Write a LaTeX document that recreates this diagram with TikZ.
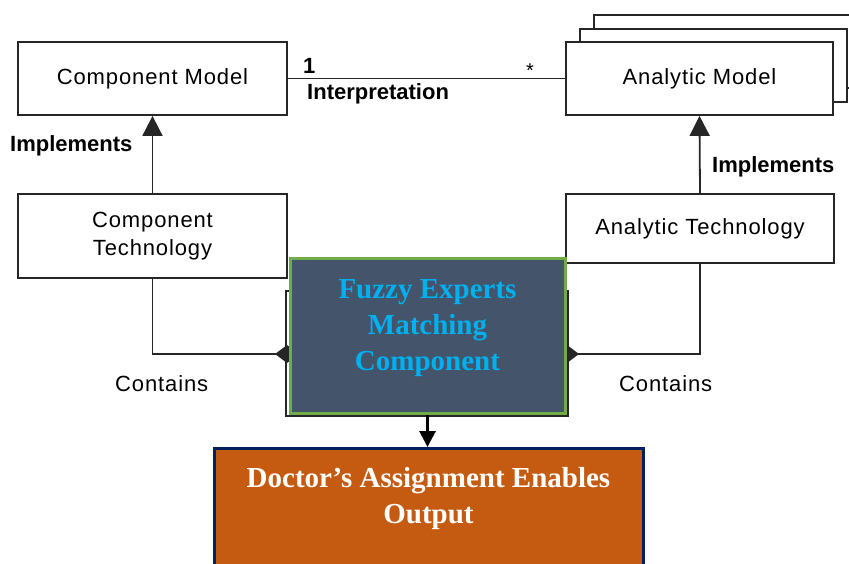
\documentclass[tikz,border=0pt]{standalone}
\usepackage{fontspec}
\setmainfont{Liberation Serif}
\newfontfamily\umlfont[LetterSpace=4]{Liberation Sans}
\newfontfamily\umlbold{Liberation Sans}
\usetikzlibrary{arrows.meta}
\definecolor{linegray}{HTML}{262626}
\definecolor{slate}{HTML}{44546A}
\definecolor{leafgreen}{HTML}{70AD47}
\definecolor{skyblue}{HTML}{00B0F0}
\definecolor{rust}{HTML}{C55A11}
\definecolor{navy}{HTML}{002060}
\tikzset{
  umlbox/.style={draw=linegray, line width=1.8pt, fill=white, inner sep=0pt,
    align=center, font=\umlfont\fontsize{22}{28}\selectfont},
  lbl/.style={inner sep=0pt, anchor=base west, font=\umlbold\bfseries\fontsize{22}{26}\selectfont},
  plainlbl/.style={inner sep=0pt, anchor=base west, font=\umlfont\fontsize{22}{26}\selectfont},
  wire/.style={draw=linegray, line width=1.8pt},
  implarrow/.style={wire, -{Triangle[length=20pt,width=20pt]}},
  containarrow/.style={wire, -{Diamond[length=24pt,width=18pt]}},
  fuzzybox/.style={draw=leafgreen, line width=3pt, fill=slate, inner sep=0pt},
  fuzzytext/.style={text=skyblue, align=center, inner sep=0pt,
    font=\bfseries\fontsize{29}{36}\selectfont},
  docbox/.style={draw=navy, line width=3pt, fill=rust, inner sep=0pt},
  doctext/.style={text=white, align=center, inner sep=0pt,
    font=\bfseries\fontsize{29}{36}\selectfont},
  flowarrow/.style={draw=black, line width=3pt, -{Triangle[length=16pt,width=16pt]}}
}
\begin{document}
\begin{tikzpicture}[x=1pt,y=-1pt]
\useasboundingbox (0,0) rectangle (849,564);
\clip (0,0) rectangle (849,564);

% stacked copies behind the analytic model
\node[umlbox, minimum width=268pt, minimum height=73pt] (stackback) at (728,51.5) {};
\node[umlbox, minimum width=267pt, minimum height=73pt] (stackmid) at (713.5,65.5) {};

% model boxes
\node[umlbox, minimum width=269pt, minimum height=73pt] (cmodel) at (152.5,78.5) {Component Model};
\node[umlbox, minimum width=267pt, minimum height=73pt] (amodel) at (699.5,78.5) {Analytic Model};

% technology boxes
\node[umlbox, minimum width=269pt, minimum height=84pt] (ctech) at (152.5,236) {Component\\Technology};
\node[umlbox, minimum width=268pt, minimum height=69pt] (atech) at (700,228.5) {Analytic Technology};

% association
\draw[wire] (cmodel.east) -- (amodel.west);
\node[lbl] (one) at (303,74) {1};
\node[lbl] (interp) at (307,100) {Interpretation};
\node[inner sep=0pt, font=\umlbold\fontsize{20}{20}\selectfont] (many) at (530,71) {*};

% realisation arrows
\draw[implarrow] (ctech.north) -- (cmodel.south);
\draw[implarrow] (atech.north) -- (amodel.south);
\node[lbl] (implL) at (10,152) {Implements};
\node[lbl] (implR) at (712,173) {Implements};

% container box underneath
\node[draw=linegray, line width=1.8pt, fill=white, minimum width=282pt, minimum height=125pt, inner sep=0pt] (holder) at (427,353.5) {};

% composition connectors
\coordinate (cl) at (299,354);
\coordinate (cr) at (555,354);
\draw[containarrow] (ctech.south) |- (cl);
\draw[containarrow] (atech.south) |- (cr);
\node[plainlbl] (contL) at (115,391) {Contains};
\node[plainlbl] (contR) at (619,391) {Contains};

% fuzzy matching component
\node[fuzzybox, minimum width=275pt, minimum height=154pt] (fuzzy) at (427.5,336) {};
\node[fuzzytext] (fuzzylabel) at (427.5,328) {Fuzzy Experts\\Matching\\Component};

% output box
\node[docbox, minimum width=429pt, minimum height=170pt, anchor=north] (doc) at (428.5,447) {};
\node[doctext] (doclabel) at (428.5,499) {Doctor’s Assignment Enables\\Output};

\draw[flowarrow] (fuzzy.south) -- (fuzzy.south |- doc.north);
\end{tikzpicture}
\end{document}
